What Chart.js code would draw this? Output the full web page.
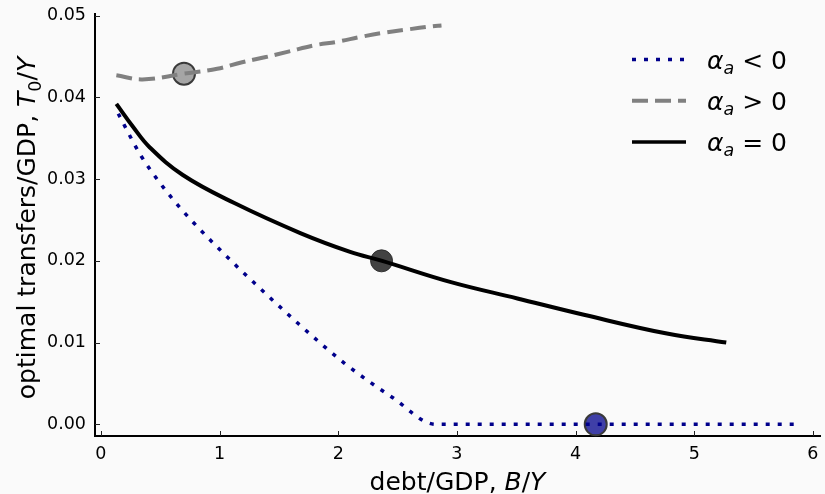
<!DOCTYPE html>
<html>
<head>
<meta charset="utf-8">
<script src="https://cdn.jsdelivr.net/npm/chart.js@4/dist/chart.umd.min.js"></script>
<style>
  body { margin: 0; background: #fafafa; }
  canvas { display: block; }
</style>
</head>
<body>
<canvas id="chart" width="825" height="494"></canvas>
<script>
// alpha_a < 0 (dotted navy)
const negX = [0.146, 0.34, 0.58, 0.785, 1.14, 1.285, 1.665, 2.05, 2.46, 2.82, 5.86];
const negY = [0.0380, 0.0328, 0.0280, 0.0246, 0.0194, 0.0174, 0.0123, 0.0075, 0.00325, 0.0, 0.0];

// alpha_a > 0 (dashed gray)
const posX = [0.13, 0.35, 0.70, 0.98, 1.19, 1.38, 1.58, 1.81, 1.99, 2.19, 2.38, 2.58, 2.79, 2.87];
const posY = [0.0427, 0.0422, 0.0429, 0.0435, 0.0443, 0.0449, 0.0456, 0.0464, 0.0468, 0.0474, 0.0479, 0.0483, 0.0487, 0.0488];

// alpha_a = 0 (solid black)
const zeroX = [0.13, 0.27, 0.41, 0.69, 1.12, 1.68, 2.10, 2.37, 2.95, 3.51, 4.07, 4.77, 5.27];
const zeroY = [0.0392, 0.0364, 0.0339, 0.0305, 0.0271, 0.0234, 0.0211, 0.0200, 0.0174, 0.0154, 0.0134, 0.0111, 0.0100];

// highlighted points
const markerNeg = { x: 4.17, y: 0.0 };
const markerPos = { x: 0.70, y: 0.0429 };
const markerZero = { x: 2.365, y: 0.0200 };

const xTicks = [0, 1, 2, 3, 4, 5, 6];
const yTicks = [0.00, 0.01, 0.02, 0.03, 0.04, 0.05];

const FONT = "'DejaVu Sans', sans-serif";

function toPoints(xs, ys) {
  return xs.map((x, i) => ({ x, y: ys[i] }));
}

// draws a run of text pieces; pieces can be italic or subscript
function drawRich(ctx, parts, x, y, size, align) {
  const widths = parts.map((p) => {
    const s = p.sub ? size * 0.7 : size;
    ctx.font = `${p.italic ? "italic " : ""}${s}px ${FONT}`;
    return ctx.measureText(p.text).width;
  });
  const total = widths.reduce((a, b) => a + b, 0);
  let cx = align === "center" ? x - total / 2 : x;
  ctx.textBaseline = "alphabetic";
  ctx.textAlign = "left";
  parts.forEach((p, i) => {
    const s = p.sub ? size * 0.7 : size;
    ctx.font = `${p.italic ? "italic " : ""}${s}px ${FONT}`;
    ctx.fillText(p.text, cx, p.sub ? y + size * 0.22 : y);
    cx += widths[i];
  });
}

const legendItems = [
  { color: "#00008b", dash: [4, 8], width: 3.5, label: [{ text: "α", italic: true }, { text: "a", italic: true, sub: true }, { text: " < 0" }] },
  { color: "#808080", dash: [16, 7], width: 4, label: [{ text: "α", italic: true }, { text: "a", italic: true, sub: true }, { text: " > 0" }] },
  { color: "#000000", dash: [], width: 3.5, label: [{ text: "α", italic: true }, { text: "a", italic: true, sub: true }, { text: " = 0" }] },
];

const decorPlugin = {
  id: "decor",
  afterDraw(chart) {
    const { ctx, chartArea, scales } = chart;
    ctx.save();

    // inward tick marks
    ctx.strokeStyle = "#222";
    ctx.lineWidth = 1;
    ctx.beginPath();
    xTicks.forEach((v) => {
      const px = Math.round(scales.x.getPixelForValue(v)) + 0.5;
      ctx.moveTo(px, chartArea.bottom);
      ctx.lineTo(px, chartArea.bottom - 5);
    });
    yTicks.forEach((v) => {
      const py = Math.round(scales.y.getPixelForValue(v)) + 0.5;
      ctx.moveTo(chartArea.left, py);
      ctx.lineTo(chartArea.left + 5, py);
    });
    ctx.stroke();

    // axis titles
    ctx.fillStyle = "#000";
    const midX = (chartArea.left + chartArea.right) / 2;
    drawRich(ctx, [
      { text: "debt/GDP, " }, { text: "B", italic: true }, { text: "/" }, { text: "Y", italic: true },
    ], midX, 490, 25, "center");

    ctx.save();
    ctx.translate(35, 228);
    ctx.rotate(-Math.PI / 2);
    drawRich(ctx, [
      { text: "optimal transfers/GDP, " }, { text: "T", italic: true }, { text: "0", sub: true },
      { text: "/" }, { text: "Y", italic: true },
    ], 0, 0, 25, "center");
    ctx.restore();

    // legend
    legendItems.forEach((item, i) => {
      const y = 59.5 + i * 41.2;
      ctx.strokeStyle = item.color;
      ctx.lineWidth = item.width;
      ctx.setLineDash(item.dash);
      ctx.beginPath();
      ctx.moveTo(632, y);
      ctx.lineTo(686, y);
      ctx.stroke();
      ctx.setLineDash([]);
      ctx.fillStyle = "#000";
      drawRich(ctx, item.label, 707, y + 9, 25, "left");
    });

    ctx.restore();
  },
};

new Chart(document.getElementById("chart"), {
  type: "line",
  data: {
    datasets: [
      {
        data: toPoints(negX, negY),
        borderColor: "#00008b",
        borderWidth: 3.5,
        borderDash: [4, 8],
        pointRadius: 0,
        cubicInterpolationMode: "monotone",
      },
      {
        data: toPoints(posX, posY),
        borderColor: "#808080",
        borderWidth: 4,
        borderDash: [16, 7],
        pointRadius: 0,
        tension: 0.4,
      },
      {
        data: toPoints(zeroX, zeroY),
        borderColor: "#000000",
        borderWidth: 4,
        pointRadius: 0,
        tension: 0.4,
      },
      {
        data: [markerPos],
        showLine: false,
        pointRadius: 11,
        pointBackgroundColor: "rgba(128,128,128,0.7)",
        pointBorderColor: "#3a3a3a",
        pointBorderWidth: 2,
      },
      {
        data: [markerZero],
        showLine: false,
        pointRadius: 11,
        pointBackgroundColor: "rgba(40,40,40,0.88)",
        pointBorderColor: "rgba(40,40,40,0.9)",
        pointBorderWidth: 1,
      },
      {
        data: [markerNeg],
        showLine: false,
        pointRadius: 11,
        pointBackgroundColor: "rgba(0,0,139,0.75)",
        pointBorderColor: "#3a3a3a",
        pointBorderWidth: 2,
      },
    ],
  },
  options: {
    responsive: false,
    animation: false,
    devicePixelRatio: 1,
    clip: false,
    // markers would otherwise make Chart.js keep extra room at the right
    layout: { autoPadding: false, padding: { top: 14, right: 5, left: 0, bottom: 0 } },
    plugins: { legend: { display: false }, tooltip: { enabled: false } },
    elements: { line: { borderCapStyle: "butt" } },
    scales: {
      x: {
        type: "linear",
        min: -0.05,
        max: 6.06,
        afterBuildTicks: (s) => { s.ticks = xTicks.map((v) => ({ value: v })); },
        afterFit: (s) => { s.height = 58; s.paddingLeft = 0; s.paddingRight = 0; },
        grid: { display: false, drawTicks: false },
        border: { display: true, color: "#000", width: 2 },
        ticks: { color: "#000", padding: 8, font: { size: 17.5, family: FONT }, maxRotation: 0 },
      },
      y: {
        type: "linear",
        min: -0.00143,
        max: 0.0502,
        afterBuildTicks: (s) => { s.ticks = yTicks.map((v) => ({ value: v })); },
        afterFit: (s) => { s.width = 95; s.paddingTop = 0; s.paddingBottom = 0; },
        grid: { display: false, drawTicks: false },
        border: { display: true, color: "#000", width: 2 },
        ticks: {
          color: "#000",
          padding: 9,
          font: { size: 17.5, family: FONT },
          callback: (v) => Number(v).toFixed(2),
        },
      },
    },
  },
  plugins: [decorPlugin],
});
</script>
</body>
</html>
